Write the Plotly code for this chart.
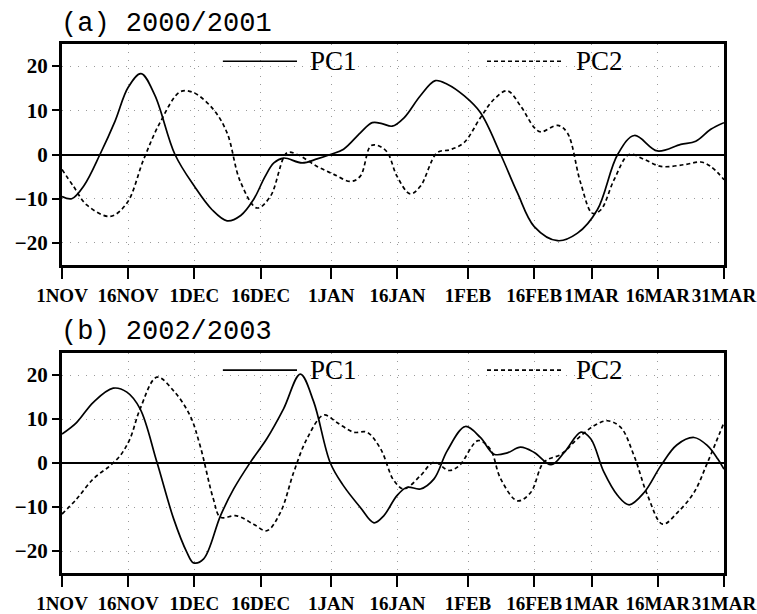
import plotly.graph_objects as go

# ---------------- data ----------------
tick_days = [0, 15, 30, 45, 61, 76, 92, 107, 120, 135, 150]
tick_labels = ["1NOV", "16NOV", "1DEC", "16DEC", "1JAN", "16JAN", "1FEB",
               "16FEB", "1MAR", "16MAR", "31MAR"]
y_ticks = [-20, -10, 0, 10, 20]
y_labels = ["\u221220", "\u221210", "0", "10", "20"]

panel_titles = ["(a) 2000/2001", "(b) 2002/2003"]
series_names = ["PC1", "PC2"]

# Panel (a) 2000/2001
a_pc1_day = [0, 2.2, 5, 8.6, 12, 15, 17.9, 21, 25.6, 30, 34, 37.4, 40.5, 43.4, 46, 48,
             50.2, 54.4, 57.8, 60.8, 63.8, 67.6, 70.3, 72.5, 74.8, 77.5, 81.2, 84.6,
             87.3, 91.1, 94.8, 99.4, 103.2, 107, 112.3, 116.8, 121.3, 125.9, 129.7,
             134.9, 140.2, 143.6, 147, 150]
a_pc1_val = [-9.5, -10, -7, 0, 7.5, 15.2, 18.3, 13.5, 0, -7.2, -12.5, -15, -13.8, -10.2,
             -5, -1.9, -0.8, -1.9, -1, 0, 1.2, 4.9, 7.2, 7, 6.4, 8.3, 13.3, 16.7, 15.9,
             13.3, 9.5, 0, -8.7, -16.3, -19.5, -17.8, -12.5, 0, 4.3, 0.8, 2.3, 3, 5.7,
             7.2]
a_pc2_day = [0, 2.6, 5.6, 10.9, 14.7, 18.5, 22.2, 26.8, 29.8, 34.3, 37.4, 40.4, 44.2,
             47.2, 51, 53.3, 57.8, 61.6, 65.4, 67.6, 69.9, 71.4, 73.7, 75.9, 78.9, 81.2,
             85, 88, 91.1, 94.8, 97.9, 100.9, 103.9, 107, 108.5, 112.3, 114.5, 117.5,
             120.2, 122.1, 125.1, 128.5, 131.9, 135.7, 141, 144.7, 147, 150]
a_pc2_val = [-3.4, -7.2, -11.4, -14, -11, -1.1, 7.2, 14.2, 14, 10.2, 4.9, -6.1, -12.1,
             -9.5, 0.4, 0, -2.7, -4.5, -6.1, -4.9, 1.9, 2.1, 0.5, -4.9, -8.9, -7.2, 0.4,
             1.1, 2.7, 8.3, 12.5, 14.4, 11, 6.1, 5.1, 6.6, 4.9, -6.4, -13.3, -12.5,
             -5.7, 0, -1.1, -2.7, -2.3, -1.7, -2.7, -5.7]

# Panel (b) 2002/2003
b_pc1_day = [0, 3.3, 7.1, 11.6, 14.7, 17.7, 21.5, 25.3, 28.3, 29.8, 32.1, 35.9, 38.9,
             42.7, 46.4, 50.2, 54, 57, 60.8, 63.8, 67.6, 70.7, 72.9, 75.9, 78.2, 81.2,
             84.3, 87.3, 91.4, 94.8, 97.9, 100.9, 103.9, 107, 110.8, 113.8, 117.6,
             119.8, 122.8, 125.9, 128.5, 131.9, 135.7, 139.3, 143.2, 146.3, 148.6, 150]
b_pc1_val = [6.6, 9.2, 13.8, 17, 16.1, 12.3, 0.2, -12.7, -20.3, -22.7, -21.8, -12, -5.9,
             0.2, 5.5, 12.3, 20.2, 14, 0, -5.2, -10.1, -13.6, -12, -7.4, -5.5, -5.9,
             -3.6, 2.8, 8.3, 5.8, 2, 2.3, 3.6, 2.4, -0.4, 2.4, 7, 5.5, -2.1, -7.4,
             -9.5, -6.7, -0.6, 4.1, 5.8, 3.9, 0.9, -1.4]
b_pc2_day = [0, 3.3, 7.1, 10.9, 13.2, 15.4, 17.7, 21.5, 25.3, 29, 31.3, 34.3, 35.9,
             39.6, 43.4, 46.4, 49.5, 52.5, 55.5, 59.3, 62.3, 66.1, 69.1, 72.2, 75.2,
             77.5, 81.2, 84.3, 87.7, 90, 94.3, 97, 99.4, 103.2, 106.2, 109.2, 113.1,
             116.8, 120.6, 123.6, 126.6, 129.6, 132.7, 136.1, 139.5, 143.2, 146.3, 150]
b_pc2_val = [-11.6, -8.2, -3.6, -0.6, 1.7, 5.5, 12.3, 19.5, 16.4, 10.8, 3.9, -8.2, -12.3,
             -12, -13.9, -15.4, -11.2, -2.1, 5.5, 10.9, 9.2, 7, 7, 3.2, -4, -5.9, -2.9,
             0.2, -1.7, -0.6, 5.1, 3.2, -3.6, -8.6, -6.7, 0.2, 2, 5.5, 8.5, 9.6, 8.1,
             1.7, -7.4, -13.9, -11.2, -6.7, 0.2, 9.2]

# ---------------- figure ----------------
W, H = 757, 614
fig = go.Figure()

solid = dict(color="black", width=1.7, shape="spline", smoothing=1.0)
dashed = dict(color="black", width=1.7, shape="spline", smoothing=1.0, dash="4px,3px")

fig.add_trace(go.Scatter(x=a_pc1_day, y=a_pc1_val, mode="lines", line=solid,
                         name=series_names[0], xaxis="x", yaxis="y"))
fig.add_trace(go.Scatter(x=a_pc2_day, y=a_pc2_val, mode="lines", line=dashed,
                         name=series_names[1], xaxis="x", yaxis="y"))
fig.add_trace(go.Scatter(x=b_pc1_day, y=b_pc1_val, mode="lines", line=solid,
                         name=series_names[0], xaxis="x2", yaxis="y2"))
fig.add_trace(go.Scatter(x=b_pc2_day, y=b_pc2_val, mode="lines", line=dashed,
                         name=series_names[1], xaxis="x2", yaxis="y2"))

xdom = [62 / W, 724 / W]
ydom_a = [1 - 265 / H, 1 - 44 / H]
ydom_b = [1 - 573 / H, 1 - 353 / H]

xtickfont = dict(family="Liberation Serif", size=19, color="black", weight="bold")
ytickfont = dict(family="Liberation Serif", size=21, color="black", weight="bold")
grid = dict(showgrid=True, gridcolor="#9a9a9a", gridwidth=1, griddash="1px,7px")
frame = dict(showline=True, linecolor="black", linewidth=3, mirror=True)

def xax(anchor):
    return dict(domain=xdom, range=[0, 150], anchor=anchor, tickmode="array",
                tickvals=tick_days, ticktext=tick_labels, ticks="outside",
                ticklen=11, tickwidth=2, tickcolor="black", tickfont=xtickfont,
                tickangle=0, automargin=False, zeroline=False, **grid, **frame)

def yax(dom, anchor):
    return dict(domain=dom, range=[-25, 25], anchor=anchor, tickmode="array",
                tickvals=y_ticks, ticktext=y_labels, ticks="outside", ticklen=7,
                tickwidth=1.5, tickcolor="black", tickfont=ytickfont,
                automargin=False, zeroline=True, zerolinecolor="black",
                zerolinewidth=1.6, **grid, **frame)

fig.update_layout(
    width=W, height=H, margin=dict(l=0, r=0, t=0, b=0, autoexpand=False),
    plot_bgcolor="white", paper_bgcolor="white", showlegend=False,
    xaxis=xax("y"), yaxis=yax(ydom_a, "x"),
    xaxis2=xax("y2"), yaxis2=yax(ydom_b, "x2"),
)

# panel titles
title_font = dict(family="Liberation Mono", size=27, color="black")
fig.add_annotation(text=panel_titles[0], xref="paper", yref="paper",
                   x=59 / W, y=1 - 24 / H, xanchor="left", yanchor="middle",
                   showarrow=False, font=title_font)
fig.add_annotation(text=panel_titles[1], xref="paper", yref="paper",
                   x=59 / W, y=1 - 332 / H, xanchor="left", yanchor="middle",
                   showarrow=False, font=title_font)

# in-plot legends (key line + label) for both panels
leg_font = dict(family="Liberation Serif", size=27, color="black")
for xr, yr in (("x domain", "y domain"), ("x2 domain", "y2 domain")):
    ly = 0.922
    fig.add_shape(type="line", xref=xr, yref=yr, x0=0.243, x1=0.355, y0=ly, y1=ly,
                  line=dict(color="black", width=1.7))
    fig.add_shape(type="line", xref=xr, yref=yr, x0=0.642, x1=0.757, y0=ly, y1=ly,
                  line=dict(color="black", width=1.7, dash="4px,3px"))
    fig.add_annotation(text=series_names[0], xref=xr, yref=yr, x=0.372, y=ly,
                       xanchor="left", yanchor="middle", showarrow=False, font=leg_font)
    fig.add_annotation(text=series_names[1], xref=xr, yref=yr, x=0.774, y=ly,
                       xanchor="left", yanchor="middle", showarrow=False, font=leg_font)

fig.write_html("out.html")
